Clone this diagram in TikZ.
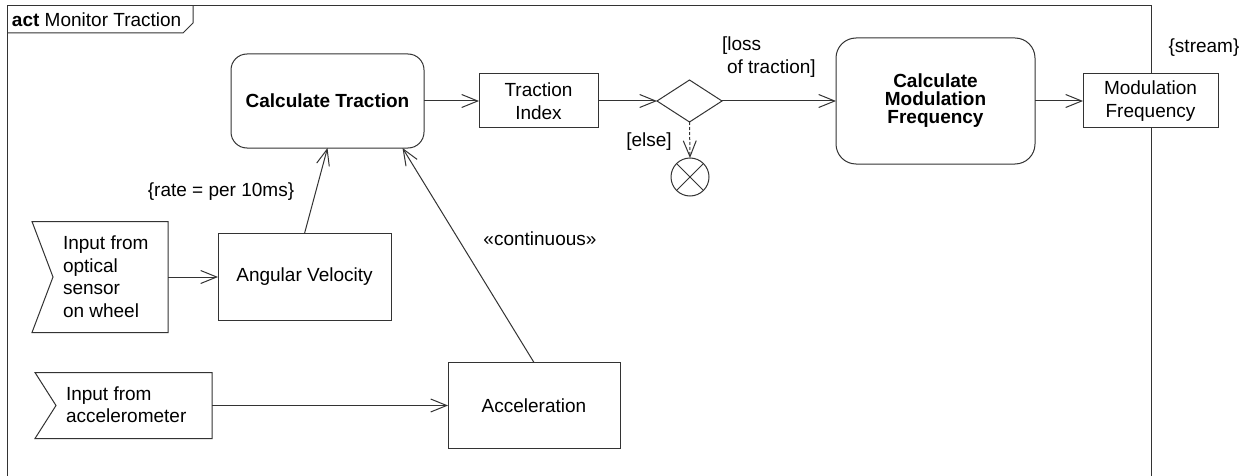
\documentclass[tikz,border=0pt]{standalone}
\usepackage{fontspec}
\setmainfont{Liberation Sans}
\usetikzlibrary{arrows.meta,shapes.geometric,calc}
\begin{document}
\begin{tikzpicture}[x=1pt,y=-1pt,
  every node/.style={font=\fontsize{19}{22.5}\selectfont, inner sep=0pt, outer sep=0pt},
  ln/.style={draw=black!80, line width=1pt},
  arr/.style={ln, -{Straight Barb[length=16pt,width=13pt,line width=1pt]}},
  objbox/.style={draw=black!80, line width=1pt, rectangle, align=center},
  actbox/.style={draw=black!80, line width=1pt, rectangle, rounded corners=16pt, align=center, font=\fontsize{19}{18}\selectfont\bfseries},
]
\useasboundingbox (0,0) rectangle (1244,476);
\fill[white] (0,0) rectangle (1244,476);
% frame
\draw[ln] (7,476) -- (7,6) -- (1151,6) -- (1151,476);
\draw[ln] (7,33) -- (183,33) -- (193,23) -- (193,6);
\node[anchor=west] (hdr) at (12,20) {\textbf{act} Monitor Traction};

% activities and objects
\node[actbox, minimum width=193pt, minimum height=94pt] (ct) at (327.5,101) {Calculate Traction};
\node[objbox, minimum width=119pt, minimum height=54pt] (ti) at (538.5,101) {Traction\\Index};
\node[diamond, draw=black!80, line width=1pt, minimum width=65pt, minimum height=42pt] (dec) at (689.5,101) {};
\node[circle, draw=black!80, line width=1pt, minimum size=38pt] (ff) at (690,177) {};
\draw[ln] (ff.north east) -- (ff.south west) (ff.north west) -- (ff.south east);
\node[actbox, minimum width=199pt, minimum height=126pt, rounded corners=20pt] (cmf) at (935.5,101) {Calculate\\Modulation\\Frequency};
\node[objbox, fill=white, minimum width=135pt, minimum height=54pt] (mf) at (1150.5,101) {Modulation\\Frequency};

\node[objbox, minimum width=173pt, minimum height=87pt] (av) at (304.5,277) {Angular Velocity};
\node[objbox, minimum width=172pt, minimum height=86pt] (acc) at (534,405.5) {Acceleration};

% accept event actions
\node[minimum width=136pt, minimum height=111pt] (in1) at (100,277) {};
\draw[ln] (in1.north west) -- (in1.north east) -- (in1.south east) -- (in1.south west) -- ($(in1.west)+(21,0)$) -- cycle;
\node[anchor=west, align=left] (in1t) at (63,276.5) {Input from\\optical\\sensor\\on wheel};
\node[minimum width=177pt, minimum height=66pt] (in2) at (123.5,405.5) {};
\draw[ln] (in2.north west) -- (in2.north east) -- (in2.south east) -- (in2.south west) -- ($(in2.west)+(21,0)$) -- cycle;
\node[anchor=west, align=left] (in2t) at (66,404.5) {Input from\\accelerometer};

% labels
\node (stream) at (1204,48) {\{stream\}};
\node[anchor=west, align=left] (loss) at (722,57) {[loss\\\hspace*{5pt}of traction]};
\node (else) at (649,142) {[else]};
\node (rate) at (221,192) {\{rate = per 10ms\}};
\node (cont) at (540,239) {«continuous»};

% flows
\draw[arr] (in1.east) -- (av.west);
\draw[arr] (in2.east) -- (acc.west);
\draw[arr] (av.north) -- (ct.south);
\draw[arr] (acc.north) -- ($(ct.south)+(75,0)$);
\draw[arr] (ct.east) -- (ti.west);
\draw[arr] (ti.east) -- (dec.west);
\draw[arr] (dec.east) -- (cmf.west);
\draw[arr] (cmf.east) -- (mf.west);
\draw[arr, dash pattern=on 3pt off 2pt] (dec.south) -- (ff.north);
\end{tikzpicture}
\end{document}
